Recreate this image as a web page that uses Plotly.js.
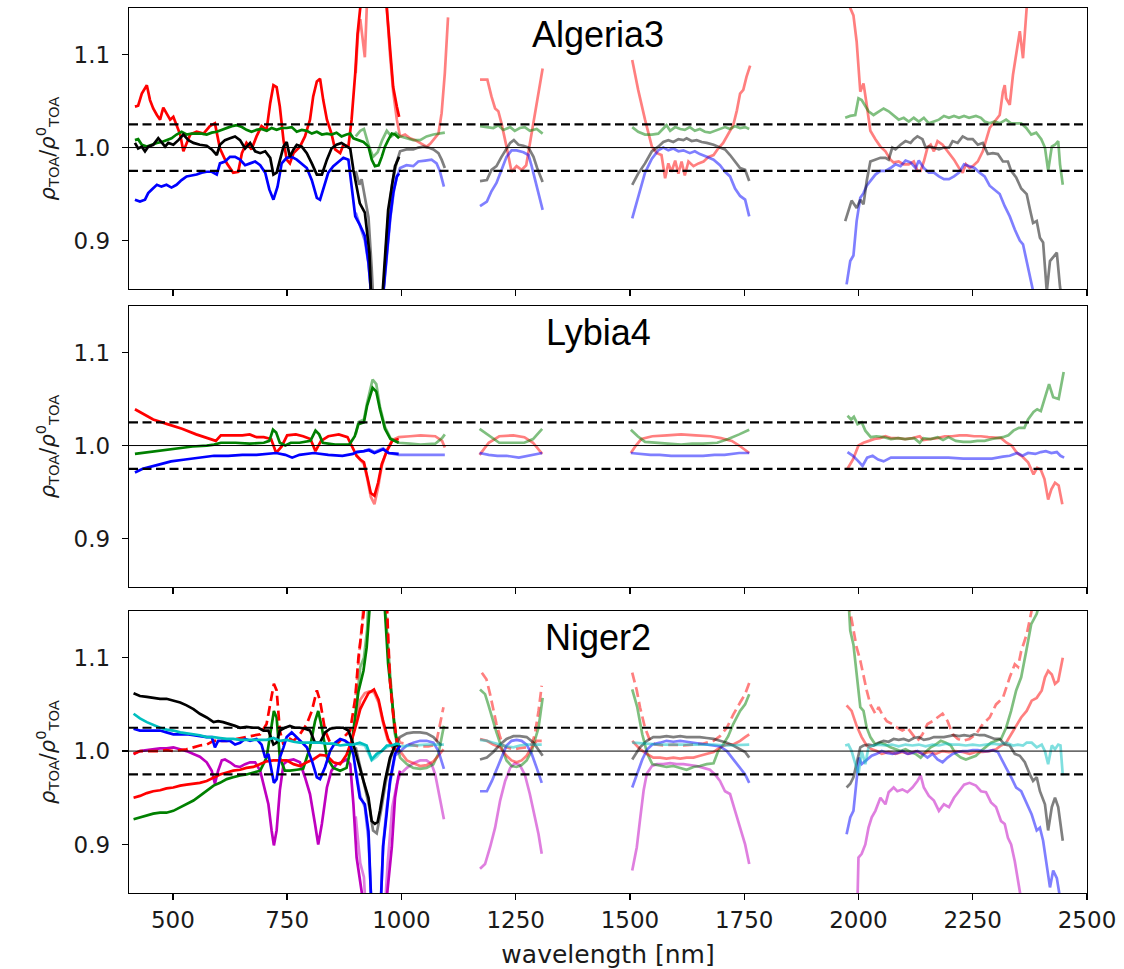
<!DOCTYPE html>
<html>
<head>
<meta charset="utf-8">
<script src="https://cdn.plot.ly/plotly-3.0.1.min.js"></script>
<style>
  html, body { margin: 0; padding: 0; background: #ffffff; }
  #chart { width: 1124px; height: 969px; }
</style>
</head>
<body>
<div id="chart"></div>
<script>
// ---- axes and labels ----
const X_RANGE = [404, 2500];
const Y_RANGE = [0.848, 1.15];
const X_TICKS = [500, 750, 1000, 1250, 1500, 1750, 2000, 2250, 2500];
const Y_TICKS = [0.9, 1.0, 1.1];
const Y_TICK_TEXT = ['0.9', '1.0', '1.1'];
const SITES = ['Algeria3', 'Lybia4', 'Niger2'];
const BAND_LIMITS = [0.975, 1.025];   // dashed tolerance band
const UNITY = 1.0;

// ---- Algeria3 : [wavelength nm, rho_TOA / rho0_TOA] ----
const ALG3_R_VNIR = [[417,1.044],[424,1.045],[432,1.058],[443,1.067],[450,1.051],[457,1.042],[465,1.035],[472,1.030],[479,1.043],[486,1.037],[494,1.030],[501,1.033],[508,1.023],[516,1.014],[523,0.996],[530,1.005],[538,1.014],[552,1.017],[567,1.015],[581,1.023],[592,1.026],[603,0.999],[618,0.983],[632,0.973],[643,0.974],[651,0.994],[661,1.005],[672,0.998],[683,1.012],[694,1.023],[705,1.019],[713,1.048],[720,1.067],[727,1.065],[734,1.044],[742,1.008],[749,0.987],[756,0.983],[764,0.994],[778,1.001],[789,1.012],[800,1.030],[807,1.055],[815,1.071],[822,1.074],[829,1.051],[837,1.030],[847,1.015],[855,0.998],[866,0.994],[873,1.003],[884,1.001],[891,1.030],[899,1.080],[904,1.122],[912,1.160],[925,1.250],[945,1.300],[960,1.220],[968,1.150],[975,1.108],[982,1.065],[990,1.044],[995,1.033]];
const ALG3_G_VNIR = [[417,1.008],[424,1.009],[432,1.003],[443,1.001],[454,1.003],[465,1.005],[476,1.006],[486,1.008],[497,1.010],[508,1.014],[519,1.017],[530,1.014],[541,1.015],[552,1.015],[563,1.015],[574,1.014],[585,1.016],[596,1.017],[607,1.019],[618,1.021],[629,1.023],[640,1.024],[651,1.022],[661,1.019],[672,1.017],[683,1.019],[694,1.020],[705,1.018],[716,1.021],[727,1.019],[738,1.021],[749,1.021],[760,1.022],[771,1.017],[782,1.019],[793,1.018],[804,1.015],[815,1.017],[826,1.014],[837,1.015],[847,1.014],[858,1.016],[869,1.012],[880,1.014],[888,1.015],[895,1.010],[906,1.008],[917,1.006],[928,1.001],[935,0.987],[942,0.980],[950,0.981],[957,0.990],[964,1.001],[971,1.008],[979,1.015],[986,1.014],[995,1.010]];
const ALG3_K_VNIR = [[417,1.005],[424,0.999],[432,1.001],[439,0.996],[446,1.001],[457,1.003],[468,1.010],[475,1.006],[483,1.001],[490,1.005],[501,1.003],[512,1.008],[523,1.014],[534,1.008],[545,1.005],[559,1.003],[574,1.002],[585,0.998],[596,0.992],[603,1.003],[614,1.008],[625,1.010],[636,1.012],[647,1.008],[658,0.999],[669,1.005],[680,0.996],[691,0.994],[702,0.996],[713,0.989],[720,0.971],[727,0.973],[734,0.985],[742,1.001],[749,1.006],[756,0.990],[764,0.998],[771,1.003],[782,1.001],[793,0.994],[804,0.983],[815,0.971],[826,0.971],[837,0.987],[847,0.999],[858,1.003],[869,1.005],[880,1.001],[888,0.999],[895,0.976],[902,0.958],[909,0.940],[920,0.930],[930,0.887],[937,0.800],[950,0.800],[957,0.830],[964,0.887],[971,0.933],[979,0.958],[986,0.980],[995,0.990]];
const ALG3_B_VNIR = [[417,0.944],[428,0.942],[439,0.944],[446,0.951],[454,0.955],[465,0.960],[475,0.958],[486,0.960],[497,0.957],[508,0.960],[519,0.965],[530,0.969],[541,0.970],[552,0.971],[563,0.973],[574,0.974],[585,0.974],[596,0.971],[603,0.983],[614,0.985],[625,0.990],[636,0.990],[647,0.987],[658,0.981],[669,0.983],[680,0.985],[691,0.981],[702,0.973],[711,0.955],[720,0.944],[729,0.958],[738,0.983],[749,0.989],[760,0.990],[771,0.987],[782,0.983],[793,0.978],[804,0.965],[815,0.946],[822,0.944],[831,0.958],[840,0.973],[851,0.980],[862,0.985],[873,0.989],[884,0.987],[891,0.958],[899,0.926],[909,0.917],[920,0.905],[928,0.876],[933,0.848],[945,0.780],[961,0.848],[968,0.887],[975,0.923],[982,0.951],[990,0.969],[995,0.972]];
const ALG3_R_SWIR = [[900,1.080],[905,1.122],[910,1.138],[915,1.120],[920,1.097],[925,1.160],[935,1.250],[950,1.300],[962,1.220],[968,1.150],[975,1.100],[982,1.060],[990,1.030],[997,1.012],[1008,1.014],[1019,1.010],[1030,1.008],[1041,1.005],[1055,1.001],[1063,1.004],[1070,1.008],[1081,1.015],[1088,1.037],[1095,1.080],[1102,1.140],
  [1172,1.073],[1188,1.073],[1197,1.055],[1205,1.042],[1212,1.039],[1219,1.026],[1230,1.001],[1241,0.974],[1252,0.980],[1263,0.976],[1273,0.981],[1280,1.001],[1289,1.026],[1300,1.058],[1309,1.085],
  [1505,1.094],[1518,1.062],[1533,1.030],[1548,1.001],[1559,0.994],[1569,0.992],[1577,0.967],[1584,0.983],[1591,0.974],[1599,0.986],[1606,0.972],[1613,0.985],[1620,0.970],[1628,0.985],[1639,0.980],[1650,0.983],[1661,0.985],[1672,0.990],[1683,0.992],[1693,0.999],[1704,1.005],[1715,1.014],[1726,1.024],[1734,1.040],[1741,1.058],[1748,1.062],[1755,1.076],[1763,1.088],
  [1975,1.170],[1982,1.150],[1989,1.142],[1996,1.114],[2004,1.060],[2011,1.069],[2018,1.046],[2026,1.018],[2037,1.009],[2048,1.001],[2059,0.996],[2070,0.987],[2077,0.984],[2088,0.985],[2099,0.982],[2110,0.982],[2121,0.985],[2129,0.975],[2136,0.975],[2143,0.985],[2151,1.000],[2158,1.003],[2165,0.996],[2173,1.007],[2184,1.003],[2195,0.996],[2202,0.991],[2209,0.987],[2220,0.978],[2228,0.973],[2235,0.982],[2243,0.978],[2250,0.980],[2261,0.985],[2272,0.996],[2279,1.007],[2287,1.021],[2298,1.028],[2309,1.035],[2316,1.060],[2320,1.067],[2323,1.053],[2331,1.046],[2338,1.078],[2345,1.100],[2353,1.125],[2360,1.096],[2368,1.150],[2380,1.190],[2400,1.220],[2420,1.250],[2448,1.280]];
const ALG3_G_SWIR = [[900,1.012],[910,1.018],[918,1.020],[928,1.003],[938,0.990],[948,0.995],[958,1.008],[968,1.018],[978,1.012],[988,1.016],[997,1.012],[1011,1.010],[1026,1.008],[1041,1.008],[1055,1.012],[1070,1.014],[1084,1.015],[1095,1.016],
  [1172,1.023],[1187,1.022],[1201,1.021],[1212,1.024],[1223,1.019],[1238,1.022],[1248,1.018],[1259,1.021],[1270,1.022],[1281,1.018],[1296,1.020],[1309,1.015],
  [1505,1.022],[1518,1.017],[1533,1.014],[1548,1.014],[1562,1.015],[1573,1.021],[1580,1.024],[1588,1.018],[1599,1.022],[1610,1.020],[1620,1.019],[1631,1.022],[1642,1.018],[1653,1.020],[1664,1.017],[1675,1.016],[1686,1.018],[1697,1.020],[1708,1.022],[1719,1.020],[1730,1.023],[1741,1.021],[1752,1.022],[1761,1.020],
  [1971,1.032],[1982,1.034],[1993,1.035],[2000,1.053],[2007,1.051],[2015,1.044],[2022,1.039],[2033,1.035],[2044,1.039],[2055,1.042],[2066,1.039],[2077,1.034],[2088,1.030],[2099,1.032],[2110,1.028],[2121,1.032],[2132,1.028],[2143,1.032],[2154,1.026],[2165,1.028],[2176,1.030],[2187,1.034],[2198,1.032],[2209,1.034],[2220,1.032],[2231,1.034],[2242,1.032],[2257,1.034],[2268,1.032],[2276,1.028],[2287,1.026],[2298,1.028],[2309,1.026],[2323,1.030],[2334,1.026],[2345,1.026],[2356,1.026],[2367,1.021],[2378,1.014],[2389,1.016],[2400,1.009],[2408,1.000],[2415,0.975],[2423,1.001],[2430,1.003],[2437,1.007],[2441,0.982],[2447,0.960]];
const ALG3_K_SWIR = [[900,0.975],[908,0.960],[913,0.966],[920,0.945],[928,0.925],[935,0.870],[942,0.800],[955,0.800],[962,0.860],[970,0.920],[980,0.962],[990,0.985],[997,0.996],[1011,0.998],[1026,0.998],[1037,1.000],[1048,1.001],[1059,1.000],[1070,0.998],[1081,0.994],[1088,0.987],[1095,0.978],
  [1172,0.964],[1187,0.965],[1197,0.976],[1208,0.980],[1219,0.990],[1230,0.999],[1238,1.005],[1246,1.008],[1256,1.003],[1267,1.002],[1278,1.000],[1289,0.990],[1297,0.978],[1309,0.963],
  [1505,0.960],[1518,0.972],[1533,0.983],[1548,0.996],[1562,1.001],[1573,1.006],[1584,1.008],[1595,1.006],[1606,1.009],[1617,1.008],[1624,1.010],[1635,1.007],[1646,1.008],[1657,1.006],[1668,1.005],[1683,1.003],[1697,1.000],[1708,0.998],[1719,0.992],[1730,0.985],[1741,0.978],[1752,0.976],[1761,0.964],
  [1971,0.921],[1978,0.932],[1985,0.943],[1996,0.935],[2004,0.944],[2011,0.939],[2018,0.964],[2026,0.985],[2037,0.987],[2048,0.989],[2059,0.989],[2066,0.987],[2074,1.000],[2081,0.998],[2092,1.003],[2103,1.007],[2114,1.005],[2121,1.009],[2129,1.012],[2140,1.009],[2147,1.000],[2154,1.001],[2165,1.000],[2176,0.998],[2187,1.000],[2198,1.000],[2206,1.007],[2217,1.005],[2228,1.012],[2239,1.009],[2250,1.009],[2261,1.003],[2272,1.005],[2283,0.993],[2294,0.994],[2305,0.993],[2316,0.985],[2327,0.985],[2334,0.975],[2345,0.968],[2356,0.956],[2368,0.950],[2375,0.934],[2382,0.919],[2390,0.921],[2397,0.903],[2404,0.898],[2412,0.845],[2419,0.878],[2426,0.882],[2434,0.887],[2441,0.850],[2447,0.835]];
const ALG3_B_SWIR = [[900,0.930],[910,0.915],[920,0.900],[928,0.875],[935,0.840],[945,0.780],[960,0.840],[968,0.880],[976,0.925],[984,0.955],[990,0.968],[997,0.978],[1011,0.981],[1026,0.980],[1037,0.985],[1052,0.986],[1066,0.987],[1077,0.983],[1084,0.975],[1093,0.958],
  [1172,0.937],[1187,0.942],[1197,0.953],[1208,0.962],[1219,0.976],[1230,0.990],[1241,0.997],[1252,0.997],[1267,0.995],[1278,0.992],[1285,0.980],[1296,0.958],[1309,0.933],
  [1505,0.924],[1518,0.948],[1533,0.973],[1548,0.988],[1562,0.997],[1573,1.000],[1584,0.997],[1595,0.999],[1606,0.996],[1617,0.997],[1631,0.994],[1642,0.996],[1653,0.993],[1668,0.990],[1683,0.987],[1697,0.981],[1708,0.974],[1719,0.969],[1730,0.956],[1741,0.948],[1752,0.944],[1761,0.926],
  [1974,0.853],[1982,0.878],[1989,0.884],[1996,0.921],[2004,0.946],[2011,0.951],[2018,0.959],[2026,0.964],[2037,0.971],[2048,0.975],[2059,0.975],[2070,0.978],[2081,0.982],[2092,0.980],[2103,0.986],[2114,0.984],[2125,0.978],[2132,0.986],[2143,0.978],[2154,0.973],[2165,0.973],[2176,0.969],[2187,0.966],[2198,0.966],[2209,0.969],[2220,0.973],[2231,0.982],[2243,0.980],[2254,0.978],[2265,0.973],[2276,0.969],[2287,0.959],[2298,0.955],[2309,0.950],[2320,0.937],[2331,0.926],[2342,0.912],[2353,0.900],[2360,0.896],[2368,0.878],[2375,0.864],[2382,0.846],[2410,0.800],[2448,0.780]];

// ---- Lybia4 ----
const LYB4_R_VNIR = [[417,1.039],[434,1.034],[457,1.028],[488,1.023],[520,1.018],[551,1.012],[582,1.007],[594,1.005],[605,1.011],[621,1.011],[652,1.011],[668,1.012],[683,1.009],[699,1.009],[715,1.007],[726,0.992],[738,0.999],[750,1.011],[769,1.012],[785,1.010],[801,1.007],[812,0.994],[824,1.005],[840,1.010],[863,1.012],[882,1.009],[894,0.998],[902,0.989],[910,0.985],[918,0.982],[925,0.967],[933,0.949],[941,0.946],[949,0.960],[957,0.980],[968,0.994],[980,1.005],[994,1.007]];
const LYB4_G_VNIR = [[417,0.991],[449,0.993],[481,0.995],[512,0.997],[543,0.999],[574,1.000],[590,1.001],[605,1.003],[637,1.003],[668,1.002],[699,1.003],[711,1.005],[719,1.017],[726,1.014],[734,1.003],[746,1.000],[758,1.003],[777,1.003],[801,1.005],[812,1.016],[820,1.012],[828,1.003],[855,1.001],[886,1.001],[898,1.010],[906,1.023],[918,1.025],[925,1.043],[937,1.062],[945,1.058],[953,1.039],[964,1.018],[976,1.007],[994,1.003]];
const LYB4_B_VNIR = [[417,0.971],[434,0.975],[465,0.979],[496,0.983],[527,0.985],[559,0.987],[590,0.989],[621,0.989],[652,0.990],[683,0.990],[715,0.991],[726,0.992],[746,0.990],[761,0.987],[777,0.990],[808,0.992],[840,0.990],[871,0.989],[894,0.991],[902,0.993],[918,0.994],[929,0.995],[941,0.992],[960,0.996],[972,0.992],[994,0.991]];
const LYB4_R_SWIR = [[900,0.990],[910,0.985],[918,0.980],[925,0.965],[933,0.945],[941,0.937],[949,0.955],[957,0.978],[968,0.995],[980,1.006],[994,1.009],[1019,1.010],[1042,1.011],[1074,1.010],[1089,1.005],[1095,0.998],
  [1171,0.990],[1191,1.003],[1214,1.010],[1245,1.011],[1269,1.009],[1288,1.003],[1308,0.991],
  [1502,0.992],[1513,1.000],[1525,1.007],[1549,1.010],[1581,1.011],[1612,1.012],[1644,1.011],[1676,1.010],[1699,1.008],[1723,1.005],[1739,1.000],[1761,0.992],
  [1976,0.975],[1988,0.985],[2000,1.000],[2011,1.003],[2023,1.005],[2035,1.007],[2047,1.008],[2059,1.010],[2071,1.008],[2087,1.008],[2102,1.007],[2118,1.008],[2134,1.010],[2142,1.006],[2158,1.007],[2173,1.008],[2189,1.010],[2205,1.010],[2221,1.011],[2237,1.011],[2253,1.010],[2268,1.010],[2284,1.009],[2300,1.008],[2312,1.008],[2324,1.003],[2335,1.000],[2347,0.992],[2359,0.988],[2371,0.982],[2383,0.969],[2391,0.976],[2399,0.974],[2407,0.964],[2415,0.942],[2422,0.953],[2430,0.960],[2438,0.957],[2446,0.937]];
const LYB4_G_SWIR = [[900,1.012],[906,1.025],[918,1.028],[925,1.046],[937,1.071],[945,1.066],[953,1.042],[964,1.020],[976,1.008],[994,1.003],[1019,1.002],[1042,1.001],[1074,1.002],[1089,1.008],[1095,1.012],
  [1171,1.018],[1191,1.011],[1214,1.003],[1245,1.003],[1269,1.003],[1288,1.007],[1308,1.018],
  [1502,1.017],[1517,1.010],[1533,1.004],[1565,1.003],[1590,1.002],[1612,1.001],[1636,1.002],[1660,1.002],[1691,1.003],[1715,1.007],[1739,1.012],[1761,1.017],
  [1976,1.032],[1984,1.028],[1990,1.031],[1998,1.023],[2007,1.025],[2015,1.016],[2027,1.009],[2039,1.010],[2055,1.009],[2071,1.007],[2087,1.008],[2102,1.007],[2122,1.008],[2134,1.003],[2142,1.008],[2158,1.007],[2173,1.009],[2185,1.006],[2197,1.009],[2213,1.005],[2229,1.004],[2245,1.004],[2260,1.005],[2276,1.005],[2292,1.007],[2304,1.008],[2316,1.009],[2328,1.011],[2339,1.016],[2351,1.019],[2363,1.019],[2371,1.028],[2383,1.036],[2391,1.039],[2399,1.037],[2407,1.050],[2417,1.066],[2426,1.052],[2438,1.050],[2449,1.079]];
const LYB4_B_SWIR = [[900,0.993],[918,0.994],[929,0.996],[941,0.993],[960,0.997],[972,0.992],[994,0.990],[1019,0.990],[1042,0.990],[1074,0.990],[1095,0.990],
  [1171,0.992],[1191,0.990],[1210,0.989],[1230,0.989],[1257,0.987],[1284,0.990],[1308,0.992],
  [1502,0.992],[1525,0.991],[1545,0.990],[1565,0.990],[1590,0.989],[1612,0.989],[1636,0.989],[1660,0.989],[1685,0.990],[1707,0.990],[1739,0.992],[1761,0.992],
  [1976,0.993],[1988,0.989],[2000,0.983],[2009,0.978],[2019,0.987],[2031,0.989],[2043,0.985],[2055,0.983],[2071,0.987],[2094,0.987],[2118,0.987],[2142,0.987],[2165,0.987],[2197,0.987],[2229,0.986],[2260,0.986],[2292,0.986],[2316,0.988],[2331,0.989],[2347,0.992],[2359,0.989],[2371,0.992],[2387,0.991],[2399,0.993],[2410,0.994],[2422,0.992],[2434,0.993],[2442,0.989],[2450,0.987]];

// ---- Niger2 ----
const NIG2_K_VNIR = [[414,1.062],[428,1.059],[443,1.058],[457,1.057],[472,1.056],[486,1.056],[501,1.054],[516,1.052],[530,1.049],[545,1.045],[559,1.040],[574,1.036],[589,1.031],[599,1.032],[610,1.031],[625,1.029],[636,1.027],[647,1.025],[661,1.026],[676,1.025],[687,1.025],[698,1.022],[709,1.022],[720,1.007],[727,1.009],[734,1.022],[745,1.025],[756,1.027],[767,1.025],[778,1.025],[789,1.024],[800,1.022],[811,1.009],[822,1.009],[833,1.020],[844,1.024],[858,1.025],[873,1.025],[884,1.022],[895,1.007],[906,0.986],[917,0.968],[928,0.950],[935,0.925],[942,0.922],[948,0.924],[953,0.936],[964,0.968],[975,0.993],[986,1.006],[997,1.007]];
const NIG2_C_VNIR = [[414,1.040],[428,1.035],[443,1.031],[457,1.028],[472,1.025],[486,1.023],[501,1.022],[516,1.020],[530,1.019],[545,1.018],[559,1.017],[574,1.015],[589,1.015],[603,1.014],[618,1.013],[632,1.013],[647,1.012],[661,1.012],[676,1.012],[691,1.012],[705,1.012],[720,1.014],[734,1.011],[749,1.012],[764,1.010],[778,1.009],[793,1.009],[807,1.009],[822,1.009],[837,1.008],[851,1.008],[866,1.006],[880,1.007],[895,1.007],[909,1.009],[924,1.006],[935,0.991],[946,0.997],[957,1.000],[968,1.006],[979,1.006],[990,1.008],[997,1.007]];
const NIG2_B_VNIR = [[414,1.024],[428,1.022],[443,1.022],[457,1.022],[472,1.022],[486,1.020],[501,1.018],[516,1.018],[530,1.018],[545,1.017],[559,1.016],[574,1.015],[585,1.015],[592,1.004],[599,1.011],[610,1.011],[625,1.011],[636,1.007],[647,1.009],[658,1.013],[669,1.011],[683,1.013],[694,1.007],[702,0.993],[709,0.997],[716,0.979],[721,0.966],[727,0.970],[734,0.993],[742,1.004],[749,1.015],[760,1.020],[771,1.015],[782,1.009],[793,1.004],[804,0.990],[815,0.972],[822,0.970],[833,0.983],[844,1.000],[855,1.009],[866,1.013],[877,1.011],[888,1.007],[895,0.996],[902,0.972],[909,0.950],[920,0.943],[928,0.914],[933,0.850],[940,0.780],[950,0.780],[955,0.850],[960,0.898],[968,0.934],[975,0.968],[986,0.997],[997,1.006]];
const NIG2_R_VNIR = [[414,0.950],[428,0.952],[443,0.955],[457,0.957],[472,0.958],[486,0.960],[501,0.961],[516,0.963],[530,0.964],[545,0.965],[559,0.966],[574,0.968],[589,0.972],[603,0.975],[618,0.977],[632,0.979],[647,0.980],[661,0.982],[676,0.983],[691,0.986],[705,0.989],[720,0.990],[734,0.990],[749,0.990],[764,0.986],[778,0.984],[793,0.988],[807,0.991],[822,0.996],[837,0.995],[851,0.988],[866,0.986],[880,0.996],[891,1.011],[902,1.030],[910,1.045],[917,1.052],[928,1.062],[940,1.066],[950,1.055],[960,1.032],[971,1.013],[982,1.004],[993,0.999]];
const NIG2_RD_VNIR = [[414,0.997],[428,1.000],[443,1.000],[457,1.000],[472,1.000],[486,1.001],[501,1.000],[516,1.001],[530,1.002],[545,1.004],[559,1.006],[574,1.007],[589,1.011],[618,1.011],[661,1.015],[691,1.018],[705,1.029],[716,1.057],[721,1.072],[727,1.065],[734,1.022],[742,1.007],[749,1.015],[764,1.011],[778,1.018],[793,1.029],[804,1.043],[815,1.065],[822,1.054],[833,1.022],[844,1.009],[858,1.007],[873,1.015],[888,1.022],[899,1.057],[906,1.100],[913,1.129],[920,1.160],[940,1.350],[960,1.300],[968,1.160],[975,1.075],[982,1.039],[990,1.011],[995,1.000]];
const NIG2_G_VNIR = [[414,0.927],[428,0.929],[443,0.931],[457,0.933],[472,0.934],[486,0.934],[501,0.936],[516,0.940],[530,0.943],[545,0.947],[559,0.952],[574,0.958],[589,0.963],[603,0.966],[618,0.970],[632,0.972],[647,0.974],[661,0.975],[676,0.977],[691,0.979],[705,0.993],[716,1.029],[721,1.043],[727,1.036],[734,0.993],[745,0.979],[756,0.979],[771,0.980],[785,0.981],[800,1.004],[811,1.032],[818,1.043],[826,1.025],[837,0.993],[851,0.982],[866,0.979],[880,0.982],[891,1.007],[899,1.039],[906,1.064],[917,1.086],[924,1.111],[930,1.150],[945,1.300],[964,1.150],[971,1.093],[979,1.057],[986,1.022],[995,0.999]];
const NIG2_M_VNIR = [[414,0.997],[428,1.000],[443,1.001],[457,1.002],[472,1.003],[486,1.003],[501,1.004],[516,1.002],[530,1.000],[545,0.997],[559,0.994],[574,0.988],[585,0.979],[592,0.965],[599,0.979],[607,0.990],[614,0.991],[625,0.988],[636,0.984],[647,0.983],[658,0.986],[669,0.988],[680,0.988],[691,0.979],[702,0.958],[709,0.943],[716,0.915],[721,0.899],[727,0.915],[734,0.958],[742,0.986],[752,0.990],[764,0.991],[778,0.988],[789,0.972],[800,0.954],[811,0.922],[818,0.900],[826,0.922],[837,0.961],[847,0.979],[858,0.986],[869,0.988],[880,0.991],[888,0.986],[895,0.943],[902,0.886],[909,0.865],[915,0.843],[935,0.750],[955,0.750],[968,0.843],[979,0.897],[986,0.950],[993,0.972],[997,0.979]];
const NIG2_K_SWIR = [[900,1.004],[910,0.982],[920,0.962],[930,0.940],[938,0.915],[946,0.912],[955,0.935],[965,0.965],[975,0.990],[985,1.005],[997,1.015],[1012,1.019],[1026,1.020],[1041,1.020],[1055,1.019],[1070,1.015],[1081,1.009],[1088,1.006],
  [1172,0.991],[1187,0.993],[1201,0.999],[1216,1.007],[1230,1.013],[1245,1.016],[1259,1.016],[1274,1.015],[1289,1.009],[1300,1.002],[1309,0.995],
  [1505,0.991],[1522,1.004],[1537,1.011],[1551,1.015],[1566,1.015],[1580,1.016],[1595,1.015],[1610,1.016],[1624,1.015],[1639,1.015],[1653,1.015],[1668,1.014],[1683,1.013],[1697,1.011],[1712,1.009],[1726,1.006],[1741,1.002],[1752,0.999],[1761,0.993],
  [1974,0.961],[1982,0.965],[1989,0.972],[1996,0.986],[2004,1.004],[2011,1.006],[2022,1.007],[2033,1.006],[2044,1.009],[2055,1.011],[2066,1.010],[2077,1.013],[2088,1.012],[2099,1.013],[2110,1.011],[2121,1.014],[2132,1.015],[2143,1.012],[2154,1.013],[2165,1.015],[2176,1.015],[2187,1.015],[2198,1.016],[2209,1.017],[2220,1.016],[2231,1.017],[2243,1.016],[2253,1.018],[2265,1.017],[2276,1.017],[2287,1.015],[2298,1.013],[2309,1.013],[2320,1.007],[2331,1.006],[2342,0.997],[2353,0.995],[2364,0.988],[2375,0.975],[2382,0.968],[2390,0.972],[2397,0.957],[2408,0.943],[2415,0.915],[2423,0.940],[2430,0.950],[2437,0.940],[2447,0.904]];
const NIG2_C_SWIR = [[900,1.008],[920,1.006],[935,0.990],[946,0.994],[960,1.002],[975,1.006],[997,1.005],[1026,1.006],[1055,1.007],[1084,1.007],[1093,1.007],
  [1172,1.012],[1187,1.011],[1201,1.009],[1216,1.007],[1230,1.005],[1245,1.004],[1259,1.006],[1274,1.007],[1289,1.007],[1307,1.007],
  [1505,1.009],[1533,1.008],[1566,1.007],[1595,1.007],[1624,1.007],[1653,1.007],[1683,1.007],[1712,1.006],[1741,1.007],[1761,1.007],
  [1971,1.006],[1978,1.007],[1985,1.000],[1993,0.986],[2000,0.975],[2007,1.000],[2015,0.986],[2022,1.004],[2033,1.006],[2044,1.007],[2059,1.006],[2073,1.007],[2088,1.005],[2103,1.007],[2118,1.006],[2132,1.007],[2147,1.005],[2162,1.007],[2176,1.006],[2191,1.008],[2206,1.007],[2220,1.007],[2235,1.006],[2250,1.007],[2265,1.006],[2279,1.007],[2294,1.008],[2309,1.007],[2323,1.009],[2338,1.006],[2349,1.007],[2360,1.006],[2368,1.009],[2379,1.009],[2390,1.004],[2401,1.007],[2408,1.000],[2415,0.986],[2423,1.006],[2430,1.002],[2437,1.007],[2442,1.006],[2447,0.974]];
const NIG2_B_SWIR = [[900,0.980],[910,0.952],[920,0.940],[928,0.905],[933,0.850],[942,0.780],[952,0.800],[960,0.900],[968,0.940],[976,0.968],[986,0.995],[997,1.000],[1012,1.006],[1026,1.009],[1041,1.011],[1055,1.011],[1070,1.009],[1081,1.000],[1088,0.990],[1093,0.981],
  [1172,0.957],[1187,0.957],[1198,0.968],[1208,0.979],[1219,0.993],[1230,1.006],[1241,1.011],[1252,1.012],[1263,1.011],[1274,1.007],[1285,0.997],[1296,0.982],[1307,0.966],
  [1505,0.961],[1516,0.975],[1527,0.991],[1538,1.002],[1549,1.007],[1566,1.009],[1580,1.011],[1595,1.010],[1610,1.011],[1624,1.010],[1639,1.009],[1653,1.008],[1668,1.007],[1683,1.006],[1697,1.005],[1712,1.000],[1726,0.991],[1741,0.981],[1752,0.975],[1761,0.966],
  [1974,0.911],[1982,0.929],[1989,0.936],[1996,0.972],[2001,0.993],[2007,0.986],[2018,0.991],[2029,0.995],[2040,0.997],[2051,1.000],[2062,0.998],[2074,0.997],[2085,0.998],[2096,1.000],[2107,0.997],[2118,0.998],[2129,1.000],[2140,0.997],[2151,0.993],[2162,0.997],[2173,0.991],[2184,0.988],[2195,0.993],[2206,0.997],[2217,0.999],[2228,1.000],[2239,1.000],[2250,1.001],[2261,1.001],[2272,1.000],[2283,1.000],[2294,1.001],[2305,0.999],[2312,0.993],[2323,0.982],[2334,0.972],[2345,0.961],[2356,0.957],[2368,0.943],[2379,0.932],[2390,0.915],[2397,0.918],[2404,0.904],[2412,0.879],[2419,0.854],[2426,0.872],[2434,0.864],[2441,0.843],[2447,0.820]];
const NIG2_R_SWIR = [[900,1.030],[910,1.055],[920,1.062],[930,1.064],[940,1.063],[950,1.052],[960,1.030],[970,1.012],[982,1.003],[997,1.000],[1012,0.990],[1026,0.987],[1041,0.984],[1055,0.985],[1070,0.989],[1081,0.995],[1092,1.002],
  [1172,1.013],[1187,1.011],[1201,1.007],[1216,1.004],[1230,0.995],[1241,0.990],[1252,0.988],[1263,0.990],[1274,0.995],[1285,1.004],[1296,1.011],[1307,1.011],
  [1505,1.011],[1522,1.002],[1537,0.997],[1551,0.993],[1566,0.993],[1580,0.992],[1595,0.993],[1610,0.992],[1624,0.993],[1639,0.993],[1653,0.995],[1668,0.997],[1683,0.999],[1697,1.004],[1712,1.007],[1726,1.007],[1741,1.011],[1752,1.015],[1761,1.018],
  [1974,1.049],[1985,1.043],[1996,1.027],[2007,1.015],[2018,1.006],[2029,1.002],[2040,1.000],[2051,0.997],[2066,0.999],[2081,0.997],[2096,0.999],[2110,0.997],[2125,1.000],[2140,0.997],[2154,0.999],[2169,0.997],[2184,1.000],[2198,0.999],[2213,1.000],[2228,0.999],[2243,0.997],[2257,0.999],[2272,0.999],[2287,1.000],[2301,1.002],[2312,1.006],[2323,1.009],[2334,1.018],[2345,1.027],[2356,1.036],[2368,1.043],[2379,1.054],[2390,1.057],[2401,1.065],[2408,1.079],[2415,1.086],[2423,1.082],[2430,1.072],[2437,1.075],[2447,1.100]];
const NIG2_RD_SWIR = [[900,1.060],[908,1.100],[915,1.135],[925,1.200],[945,1.350],[965,1.200],[972,1.100],[980,1.050],[988,1.020],[997,1.009],[1019,1.007],[1041,1.005],[1059,1.005],[1070,1.006],[1077,1.011],[1084,1.029],[1092,1.047],
  [1176,1.084],[1186,1.077],[1194,1.061],[1201,1.043],[1208,1.029],[1216,1.015],[1223,1.006],[1230,1.004],[1245,1.002],[1259,1.003],[1274,1.004],[1285,1.007],[1292,1.018],[1300,1.043],[1307,1.070],
  [1505,1.084],[1515,1.065],[1522,1.047],[1533,1.025],[1544,1.011],[1555,1.007],[1573,1.006],[1595,1.007],[1617,1.006],[1639,1.007],[1661,1.008],[1683,1.011],[1697,1.016],[1712,1.025],[1726,1.039],[1741,1.052],[1752,1.061],[1761,1.073],
  [1978,1.160],[1989,1.132],[1996,1.111],[2004,1.097],[2011,1.079],[2018,1.065],[2026,1.050],[2037,1.040],[2044,1.047],[2051,1.040],[2062,1.032],[2074,1.029],[2085,1.025],[2096,1.022],[2107,1.025],[2118,1.018],[2129,1.011],[2140,1.018],[2151,1.029],[2162,1.032],[2173,1.036],[2184,1.040],[2195,1.032],[2206,1.018],[2217,1.013],[2228,1.011],[2243,1.013],[2257,1.018],[2272,1.029],[2287,1.036],[2301,1.050],[2316,1.057],[2331,1.079],[2342,1.093],[2349,1.090],[2356,1.107],[2368,1.125],[2379,1.150],[2400,1.200],[2425,1.240],[2448,1.280]];
const NIG2_G_SWIR = [[900,1.040],[910,1.090],[918,1.100],[925,1.130],[935,1.250],[955,1.250],[965,1.150],[975,1.080],[985,1.020],[997,0.993],[1012,0.986],[1026,0.982],[1041,0.981],[1055,0.982],[1070,0.986],[1081,0.997],[1088,1.015],[1093,1.027],
  [1172,1.066],[1183,1.061],[1190,1.050],[1198,1.036],[1208,1.020],[1219,1.004],[1230,0.990],[1241,0.984],[1252,0.983],[1263,0.985],[1274,0.990],[1285,1.000],[1292,1.011],[1300,1.025],[1309,1.057],
  [1505,1.066],[1516,1.047],[1527,1.018],[1538,0.997],[1549,0.986],[1566,0.984],[1580,0.983],[1595,0.984],[1610,0.982],[1624,0.980],[1639,0.983],[1653,0.984],[1668,0.986],[1683,0.987],[1693,1.000],[1704,1.007],[1715,1.016],[1726,1.029],[1741,1.043],[1752,1.050],[1761,1.061],
  [1974,1.200],[1982,1.129],[1989,1.114],[1996,1.079],[2004,1.047],[2011,1.043],[2018,1.025],[2026,1.015],[2037,1.007],[2048,1.009],[2059,1.007],[2070,1.004],[2081,1.002],[2092,1.000],[2103,1.002],[2114,0.999],[2125,0.997],[2136,0.993],[2147,0.999],[2158,1.004],[2169,1.007],[2180,1.011],[2191,1.009],[2202,1.006],[2213,0.997],[2224,0.993],[2235,0.991],[2246,0.993],[2257,0.995],[2268,1.000],[2279,1.004],[2290,1.009],[2301,1.011],[2312,1.013],[2323,1.025],[2334,1.043],[2345,1.065],[2356,1.079],[2367,1.107],[2378,1.136],[2390,1.147],[2397,1.160],[2420,1.220],[2448,1.280]];
const NIG2_M_SWIR = [[900,0.930],[910,0.880],[918,0.865],[925,0.800],[960,0.800],[970,0.880],[980,0.940],[990,0.965],[997,0.975],[1012,0.982],[1026,0.987],[1041,0.990],[1055,0.990],[1066,0.986],[1074,0.975],[1081,0.957],[1088,0.943],[1093,0.927],
  [1172,0.874],[1183,0.879],[1194,0.897],[1205,0.918],[1216,0.947],[1227,0.968],[1238,0.982],[1248,0.987],[1259,0.985],[1270,0.975],[1281,0.954],[1292,0.929],[1300,0.911],[1307,0.890],
  [1505,0.872],[1515,0.897],[1522,0.926],[1530,0.958],[1537,0.976],[1548,0.984],[1559,0.986],[1573,0.986],[1588,0.987],[1602,0.986],[1617,0.986],[1631,0.985],[1646,0.984],[1661,0.982],[1675,0.980],[1686,0.975],[1697,0.968],[1708,0.957],[1719,0.954],[1730,0.936],[1741,0.918],[1752,0.900],[1761,0.879],
  [1996,0.800],[2000,0.886],[2007,0.890],[2015,0.900],[2022,0.918],[2029,0.929],[2037,0.936],[2048,0.950],[2059,0.943],[2066,0.956],[2077,0.961],[2085,0.957],[2096,0.959],[2107,0.956],[2118,0.961],[2129,0.968],[2136,0.974],[2143,0.961],[2154,0.952],[2165,0.947],[2176,0.936],[2187,0.943],[2198,0.940],[2209,0.950],[2220,0.957],[2231,0.964],[2243,0.966],[2257,0.963],[2268,0.957],[2279,0.956],[2290,0.945],[2301,0.940],[2312,0.925],[2320,0.922],[2327,0.907],[2334,0.900],[2342,0.882],[2349,0.864],[2356,0.847],[2370,0.800]];

// ---- colours (matplotlib single-letter palette) ----
const COLORS = {
  r: [255, 0, 0], g: [0, 128, 0], b: [0, 0, 255],
  k: [0, 0, 0], c: [0, 191, 191], m: [191, 0, 191]
};

// one entry per drawn series: [panel, colour, dashed, VNIR data, SWIR data]
const SERIES = [
  [1, 'r', false, ALG3_R_VNIR, ALG3_R_SWIR],
  [1, 'g', false, ALG3_G_VNIR, ALG3_G_SWIR],
  [1, 'b', false, ALG3_B_VNIR, ALG3_B_SWIR],
  [1, 'k', false, ALG3_K_VNIR, ALG3_K_SWIR],
  [2, 'r', false, LYB4_R_VNIR, LYB4_R_SWIR],
  [2, 'g', false, LYB4_G_VNIR, LYB4_G_SWIR],
  [2, 'b', false, LYB4_B_VNIR, LYB4_B_SWIR],
  [3, 'm', false, NIG2_M_VNIR, NIG2_M_SWIR],
  [3, 'g', false, NIG2_G_VNIR, NIG2_G_SWIR],
  [3, 'r', false, NIG2_R_VNIR, NIG2_R_SWIR],
  [3, 'r', true,  NIG2_RD_VNIR, NIG2_RD_SWIR],
  [3, 'b', false, NIG2_B_VNIR, NIG2_B_SWIR],
  [3, 'k', false, NIG2_K_VNIR, NIG2_K_SWIR],
  [3, 'c', false, NIG2_C_VNIR, NIG2_C_SWIR]
];

// split a [wl, value] list into x/y arrays, breaking the line between spectral windows
const WINDOW_GAP = 60;
function toXY(pairs) {
  const x = [], y = [];
  pairs.forEach((p, i) => {
    if (i > 0 && p[0] - pairs[i - 1][0] > WINDOW_GAP) { x.push(null); y.push(null); }
    x.push(p[0]); y.push(p[1]);
  });
  return { x, y };
}

function rgba(c, a) { return 'rgba(' + c[0] + ',' + c[1] + ',' + c[2] + ',' + a + ')'; }

const LINE_W = 2.7;
const traces = [];
function addLayer(alpha, pick) {
  SERIES.forEach(([panel, col, dashed, vnir, swir]) => {
    const suffix = panel === 1 ? '' : String(panel);
    const d = toXY(pick(vnir, swir));
    traces.push({
      type: 'scatter', mode: 'lines', x: d.x, y: d.y, connectgaps: false,
      xaxis: 'x' + suffix, yaxis: 'y' + suffix, hoverinfo: 'skip', showlegend: false,
      line: { color: rgba(COLORS[col], alpha), width: LINE_W, dash: dashed ? '10px,5px' : 'solid' }
    });
  });
}
addLayer(0.5, (v, s) => s);   // SWIR channel, half transparent
addLayer(1.0, (v, s) => v);   // VNIR channel, opaque

// ---- layout ----
const DOMAINS = [[0.6825, 1.0], [0.3458, 0.6633], [0.0, 0.3186]];
const TICK_FONT = { family: 'DejaVu Sans', size: 23, color: '#1a1a1a' };
const Y_TITLE = '<i>ρ</i><sub>TOA</sub>/<i>ρ</i><sup>0</sup><sub>TOA</sub>';

const layout = {
  width: 1124, height: 969,
  margin: { l: 129, r: 37, t: 8, b: 76 },
  paper_bgcolor: '#ffffff', plot_bgcolor: '#ffffff',
  showlegend: false,
  shapes: [], annotations: []
};

[1, 2, 3].forEach((p, i) => {
  const suffix = p === 1 ? '' : String(p);
  const ax = {
    range: X_RANGE, autorange: false, domain: [0, 1],
    anchor: 'y' + suffix,
    tickmode: 'array', tickvals: X_TICKS, ticktext: X_TICKS.map(String),
    showticklabels: p === 3,
    ticks: 'outside', ticklen: 6, tickwidth: 1.3, tickcolor: '#000',
    showline: true, mirror: true, linecolor: '#000', linewidth: 1.3,
    showgrid: false, zeroline: false, tickfont: TICK_FONT
  };
  if (p === 3) {
    ax.title = { text: 'wavelength [nm]', font: { family: 'DejaVu Sans', size: 25, color: '#1a1a1a' }, standoff: 14 };
  }
  if (p !== 1) ax.matches = 'x';
  layout['xaxis' + suffix] = ax;

  layout['yaxis' + suffix] = {
    range: Y_RANGE, autorange: false, domain: DOMAINS[i],
    anchor: 'x' + suffix,
    tickmode: 'array', tickvals: Y_TICKS, ticktext: Y_TICK_TEXT,
    ticks: 'outside', ticklen: 6, tickwidth: 1.3, tickcolor: '#000',
    ticklabelstandoff: 7,
    showline: true, mirror: true, linecolor: '#000', linewidth: 1.3,
    showgrid: false, zeroline: false, tickfont: TICK_FONT,
    title: { text: Y_TITLE, font: { family: 'DejaVu Sans', size: 21, color: '#1a1a1a' }, standoff: 12 }
  };

  BAND_LIMITS.forEach(lv => {
    layout.shapes.push({
      type: 'line', xref: 'x' + suffix + ' domain', yref: 'y' + suffix,
      x0: 0, x1: 1, y0: lv, y1: lv, layer: 'above',
      line: { color: '#000', width: 2.2, dash: '9px,4.5px' }
    });
  });
  layout.shapes.push({
    type: 'line', xref: 'x' + suffix + ' domain', yref: 'y' + suffix,
    x0: 0, x1: 1, y0: UNITY, y1: UNITY, layer: 'above',
    line: { color: '#000', width: 1 }
  });

  layout.annotations.push({
    text: SITES[i], showarrow: false,
    xref: 'paper', x: 0.49, xanchor: 'center',
    yref: 'y' + suffix + ' domain', y: 1, yanchor: 'top', yshift: -4,
    font: { family: 'Liberation Sans, Arial, sans-serif', size: 36, color: '#000' }
  });
});

Plotly.newPlot('chart', traces, layout, { staticPlot: true, displayModeBar: false });
</script>
</body>
</html>
